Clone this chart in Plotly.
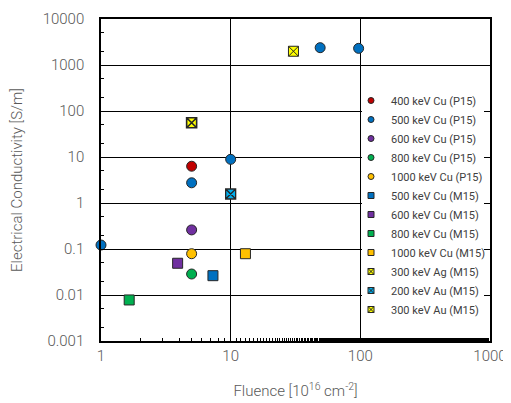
import plotly.graph_objects as go

# ---- data ----
cu400_p15_x = [5]
cu400_p15_y = [6.3]
cu500_p15_x = [1, 5, 10, 49, 97]
cu500_p15_y = [0.122, 2.75, 8.9, 2380, 2300]
cu600_p15_x = [5]
cu600_p15_y = [0.26]
cu800_p15_x = [5]
cu800_p15_y = [0.0286]
cu1000_p15_x = [5]
cu1000_p15_y = [0.079]
cu500_m15_x = [7.3]
cu500_m15_y = [0.0263]
cu600_m15_x = [3.9]
cu600_m15_y = [0.049]
cu800_m15_x = [1.65]
cu800_m15_y = [0.0078]
cu1000_m15_x = [13]
cu1000_m15_y = [0.079]
ag300_m15_x = [30.5]
ag300_m15_y = [1990]
au200_m15_x = [10]
au200_m15_y = [1.57]
au300_m15_x = [5]
au300_m15_y = [55.6]

series = [
    ("400 keV Cu (P15)", cu400_p15_x, cu400_p15_y, "circle", "#c00000", 1),
    ("500 keV Cu (P15)", cu500_p15_x, cu500_p15_y, "circle", "#0070c0", 1),
    ("600 keV Cu (P15)", cu600_p15_x, cu600_p15_y, "circle", "#7030a0", 1),
    ("800 keV Cu (P15)", cu800_p15_x, cu800_p15_y, "circle", "#00b050", 1),
    ("1000 keV Cu (P15)", cu1000_p15_x, cu1000_p15_y, "circle", "#ffc000", 1),
    ("500 keV Cu (M15)", cu500_m15_x, cu500_m15_y, "square", "#0070c0", 1),
    ("600 keV Cu (M15)", cu600_m15_x, cu600_m15_y, "square", "#7030a0", 1),
    ("800 keV Cu (M15)", cu800_m15_x, cu800_m15_y, "square", "#00b050", 1),
    ("1000 keV Cu (M15)", cu1000_m15_x, cu1000_m15_y, "square", "#ffc000", 1),
    ("300 keV Ag (M15)", ag300_m15_x, ag300_m15_y, "square-x", "#ffff00", 1),
    ("200 keV Au (M15)", au200_m15_x, au200_m15_y, "square-x", "#00b0f0", 1.3),
    ("300 keV Au (M15)", au300_m15_x, au300_m15_y, "square-x", "#ffff00", 1.6),
]

FONT = "Roboto"
GRAY = "#595959"

# the page body adds an 8px margin; the figure is sized to fill the rest
OFF = 8
W, H = 511 - OFF, 403 - OFF
PL, PR, PT, PB = 101, 490, 19, 341          # plot box in window pixels


def fx(px):
    return (px - PL) / (PR - PL)


def fy(py):
    return (PB - py) / (PB - PT)


fig = go.Figure()
for i, (name, xs, ys, sym, col, lw) in enumerate(series):
    fig.add_trace(go.Scatter(
        x=xs, y=ys, mode="markers", name=name, legendgroup=f"g{i}",
        showlegend=False,
        marker=dict(symbol=sym, size=10, color=col,
                    line=dict(color="#262626", width=lw)),
        cliponaxis=False,
    ))
    # legend entry with a smaller symbol (no data of its own)
    fig.add_trace(go.Scatter(
        x=[None], y=[None], mode="markers", name=name, legendgroup=f"g{i}",
        marker=dict(symbol=sym, size=6, color=col,
                    line=dict(color="#262626", width=min(lw, 1))),
    ))

# white legend box over the gridlines (no markers fall inside it)
fig.add_shape(type="rect", xref="paper", yref="paper",
              x0=fx(362), x1=fx(484), y0=fy(312), y1=fy(90),
              fillcolor="white", line=dict(width=0), layer="above")

axis_common = dict(
    type="log", showline=True, linecolor="black", linewidth=1.5,
    mirror=True, showgrid=True, gridcolor="black", gridwidth=1,
    ticks="inside", ticklen=5, tickcolor="black", zeroline=False,
    automargin=False,
    tickfont=dict(family=FONT, size=15, color=GRAY, weight=300),
    minor=dict(ticks="inside", ticklen=3, tickcolor="black", showgrid=False),
)

fig.update_layout(
    width=W, height=H,
    margin=dict(l=PL - OFF, r=511 - PR, t=PT - OFF, b=403 - PB),
    paper_bgcolor="white", plot_bgcolor="white",
    font=dict(family=FONT, color=GRAY, weight=300),
    xaxis=dict(range=[0, 3], tickvals=[1, 10, 100, 1000],
               ticktext=["1", "10", "100", "1000"],
               title=dict(text="Fluence [10<sup>16</sup> cm<sup>-2</sup>]",
                          font=dict(family=FONT, size=15, color=GRAY, weight=300), standoff=22),
               **axis_common),
    yaxis=dict(range=[-3, 4],
               tickvals=[0.001, 0.01, 0.1, 1, 10, 100, 1000, 10000],
               ticktext=["0.001", "0.01", "0.1", "1", "10", "100", "1000", "10000"],
               ticklabelstandoff=12,
               title=dict(text="Electrical Conductivity [S/m]",
                          font=dict(family=FONT, size=15, color=GRAY, weight=300), standoff=16),
               **axis_common),
    legend=dict(x=fx(351), y=fy(86), xanchor="left", yanchor="top",
                bgcolor="rgba(0,0,0,0)", borderwidth=0,
                font=dict(family=FONT, size=11, color="#404040", weight=400),
                tracegroupgap=0, itemwidth=30),
    showlegend=True,
)

fig.write_html("out.html")
